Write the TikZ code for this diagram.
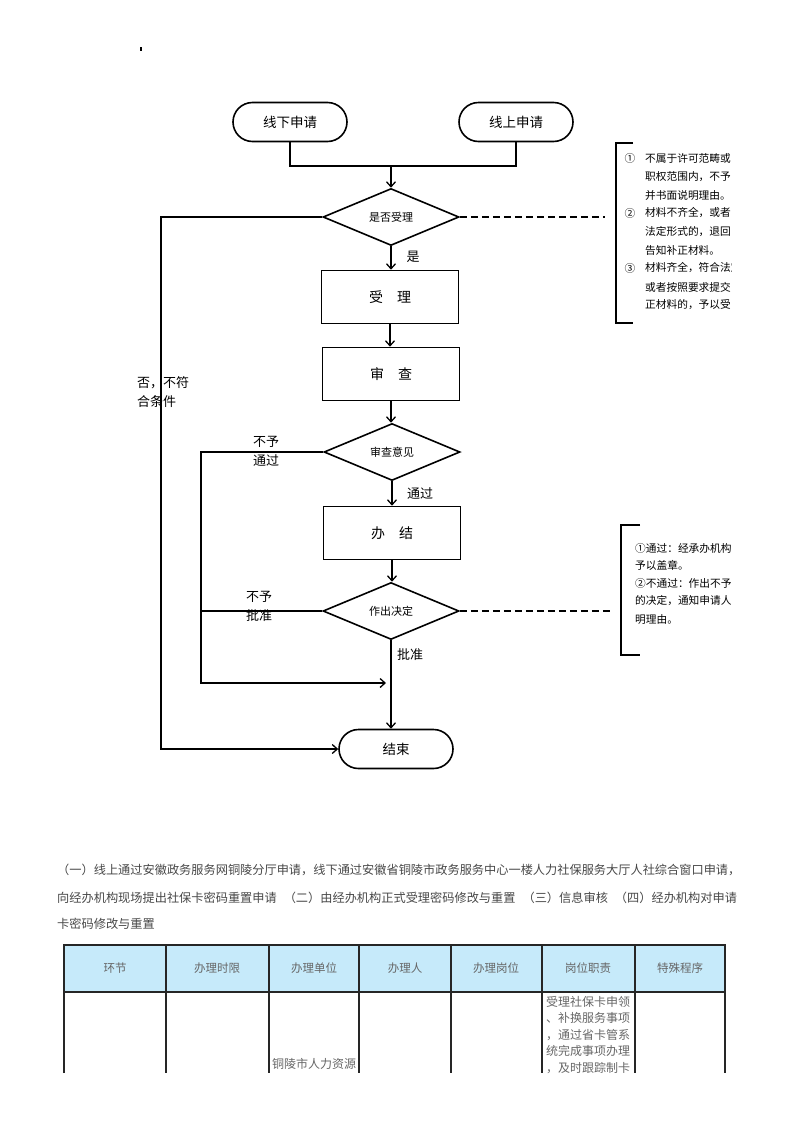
\documentclass[tikz,border=0pt]{standalone}
\usepackage{fontspec}
\setmainfont{Noto Sans CJK SC}
\usetikzlibrary{shapes.geometric,shapes.misc,arrows.meta}
\definecolor{headblue}{HTML}{C6EAFA}
\begin{document}
\begin{tikzpicture}[x=1pt,y=-1pt,
 ln/.style={line width=1.6pt},
 arr/.style={ln,-{Straight Barb[length=5pt,width=9pt,line width=1.3pt]}},
 term/.style={rounded rectangle, draw, ln, minimum width=114pt, minimum height=39pt, inner sep=0pt, font=\fontsize{13.5}{16}\selectfont},
 procbox/.style={rectangle, draw, ln, minimum width=137pt, minimum height=53pt, inner sep=0pt, font=\fontsize{14}{16}\selectfont},
 decision/.style={diamond, draw, ln, minimum width=136pt, minimum height=57pt, inner sep=0pt, font=\fontsize{11}{13}\selectfont},
 lbl/.style={font=\fontsize{13}{19}\selectfont, inner sep=0pt, align=left},
 note/.style={font=\fontsize{10.7}{12}\selectfont, inner sep=0pt, anchor=west},
 para/.style={font=\fontsize{12.2}{14}\selectfont, text=black!72, inner sep=0pt, anchor=west},
 cell/.style={font=\fontsize{11.5}{14}\selectfont, text=black!60, inner sep=0pt},
 tbl/.style={line width=1.3pt, black!85},
 dashln/.style={ln, dash pattern=on 7pt off 4pt},
 ]
\useasboundingbox (0,0) rectangle (793,1122);
\fill (140,47) rectangle (142,51);

% terminals
\node[term] (s1) at (290,122) {线下申请};
\node[term] (s2) at (516,122) {线上申请};
\node[term] (end) at (396,749) {结束};

% decisions and processes
\node[decision] (d1) at (391,217) {是否受理};
\node[procbox] (p1) at (390,297) {受\hspace{14pt}理};
\node[procbox] (p2) at (391,374) {审\hspace{14pt}查};
\node[decision] (d2) at (392,452) {审查意见};
\node[procbox] (p3) at (392,533) {办\hspace{14pt}结};
\node[decision] (d3) at (391,611) {作出决定};

% junction
\coordinate (jn) at (391,166);
\draw[ln] (s1.south) |- (jn) -| (s2.south);
\draw[arr] (jn) -- (d1.north);
\draw[arr] (d1.south) -- (p1.north -| d1.south);
\draw[arr] (p1.south) -- (p2.north -| p1.south);
\draw[arr] (p2.south) -- (d2.north -| p2.south);
\draw[arr] (d2.south) -- (p3.north -| d2.south);
\draw[arr] (p3.south) -- (d3.north -| p3.south);
\draw[arr] (d3.south) -- (d3.south |- end.north);

% rejection branches
\coordinate (c1) at (161,217);
\draw[arr] (d1.west) -- (c1) |- (end.west);
\coordinate (c2) at (201,452);
\coordinate (c3) at (386,683);
\draw[arr] (d2.west) -- (c2) |- (c3);
\draw[ln] (d3.west) -- (d3.west -| c2);

% labels
\node[lbl] (l1) at (413,257) {是};
\node[lbl] (l2) at (420,494) {通过};
\node[lbl] (l3) at (410,655) {批准};
\node[lbl, anchor=west] (l4) at (137,392) {否，不符\\合条件};
\node[lbl, anchor=west] (l5) at (253,451) {不予\\通过};
\node[lbl, anchor=west] (l6) at (246,606) {不予\\批准};

% dashed leaders
\coordinate (b1) at (605,217);
\coordinate (b2) at (612,611);
\draw[dashln] (d1.east) -- (b1);
\draw[dashln] (d3.east) -- (b2);

% bracket 1
\draw[ln] (633,143) -- (616,143) -- (616,323) -- (633,323);
\begin{scope}
\clip (600,130) rectangle (731,340);
\node[note, anchor=center] (n1a) at (630,158) {①};
\node[note] (n1) at (645,158) {不属于许可范畴或};
\node[note] (n2) at (645,177) {职权范围内，不予};
\node[note] (n3) at (645,195) {并书面说明理由。};
\node[note, anchor=center] (n4a) at (630,213) {②};
\node[note] (n4) at (645,213) {材料不齐全，或者};
\node[note] (n5) at (645,232) {法定形式的，退回};
\node[note] (n6) at (645,250) {告知补正材料。};
\node[note, anchor=center] (n7a) at (630,268) {③};
\node[note] (n7) at (645,268) {材料齐全，符合法定};
\node[note] (n8) at (645,287) {或者按照要求提交};
\node[note] (n9) at (645,305) {正材料的，予以受};
\end{scope}

% bracket 2
\draw[ln] (640,525) -- (621,525) -- (621,655) -- (640,655);
\begin{scope}
\clip (600,520) rectangle (731,660);
\node[note] (m1) at (635,548) {①通过：经承办机构};
\node[note] (m2) at (635,565) {予以盖章。};
\node[note] (m3) at (635,583) {②不通过：作出不予};
\node[note] (m4) at (635,601) {的决定，通知申请人};
\node[note] (m5) at (635,619) {明理由。};
\end{scope}

% paragraph
\node[para] (t1) at (57,870) {（一）线上通过安徽政务服务网铜陵分厅申请，线下通过安徽省铜陵市政务服务中心一楼人力社保服务大厅人社综合窗口申请，};
\node[para] (t2) at (57,898) {向经办机构现场提出社保卡密码重置申请\hspace{7pt}（二）由经办机构正式受理密码修改与重置\hspace{7pt}（三）信息审核\hspace{7pt}（四）经办机构对申请};
\node[para] (t3) at (57,924) {卡密码修改与重置};

% table
\fill[headblue] (64,945) rectangle (725,992);
\draw[tbl] (64,1073) -- (64,945) -- (725,945) -- (725,1073);
\draw[tbl] (64,992) -- (725,992);
\foreach \x in {166,269,359,451,542,635} \draw[tbl] (\x,945) -- (\x,1073);
\node[cell] (h1) at (115,968) {环节};
\node[cell] (h2) at (217,968) {办理时限};
\node[cell] (h3) at (314,968) {办理单位};
\node[cell] (h4) at (405,968) {办理人};
\node[cell] (h5) at (496,968) {办理岗位};
\node[cell] (h6) at (588,968) {岗位职责};
\node[cell] (h7) at (680,968) {特殊程序};
\node[cell, font=\fontsize{12}{14}\selectfont] (r3) at (314,1064) {铜陵市人力资源};
\node[cell, font=\fontsize{12}{16.5}\selectfont, align=center, anchor=north] (r6) at (588,996) {受理社保卡申领\\、补换服务事项\\，通过省卡管系\\统完成事项办理\\，及时跟踪制卡};
\end{tikzpicture}
\end{document}
